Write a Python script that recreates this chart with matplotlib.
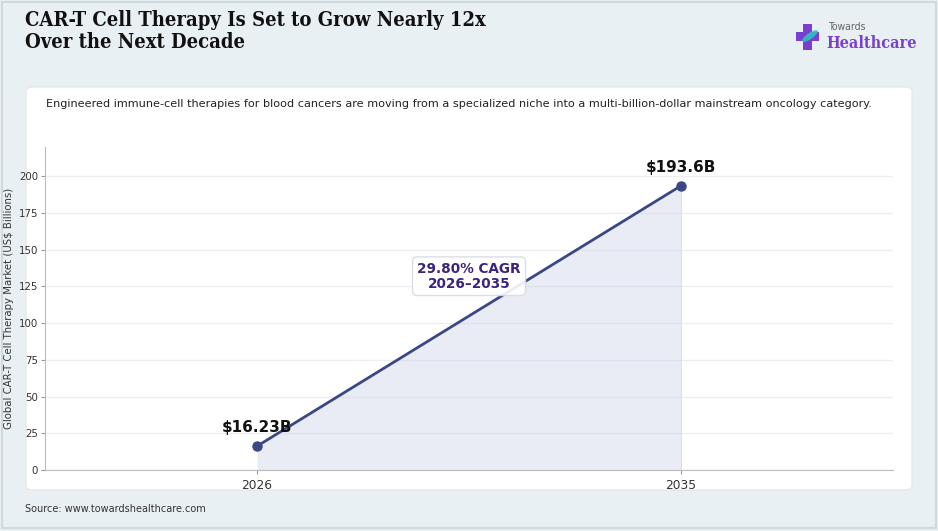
import matplotlib.pyplot as plt
from matplotlib.patches import FancyBboxPatch, Rectangle, Ellipse

# data
years = ['2026', '2035']
market = [16.23, 193.6]
value_labels = ['$16.23B', '$193.6B']
cagr_text = '29.80% CAGR\n2026–2035'

title = 'CAR-T Cell Therapy Is Set to Grow Nearly 12x\nOver the Next Decade'
subtitle = ('Engineered immune-cell therapies for blood cancers are moving from a specialized '
            'niche into a multi-billion-dollar mainstream oncology category.')
source = 'Source: www.towardshealthcare.com'

line_col = '#3b4785'
bg_col = '#e9f0f3'

####################################################
fig = plt.figure(figsize=(9.38, 5.31), dpi=100)
fig.patch.set_facecolor(bg_col)

W, H = 938, 531


def fx(px):
    return px / W


def fy(py):
    return 1 - py / H


# outer frame
fig.patches.append(Rectangle((fx(2), fy(528)), fx(934), 526 / H, transform=fig.transFigure,
                             facecolor='none', edgecolor='#cfdadf', lw=1.5, zorder=-2))
# white card
fig.patches.append(FancyBboxPatch((fx(26), fy(490)), fx(886), 403 / H,
                                  boxstyle='round,pad=0,rounding_size=0.008',
                                  transform=fig.transFigure, facecolor='white',
                                  edgecolor='#e3e9ec', lw=1, zorder=-1))

fig.text(fx(25), fy(31), title, fontsize=14.5, fontweight='bold', family='DejaVu Serif',
         fontstretch='condensed', va='center', ha='left', color='#111111', linespacing=1.1)
fig.text(fx(46), fy(104), subtitle, fontsize=8.1, va='center', ha='left', color='#222222')
fig.text(fx(25), fy(509), source, fontsize=7.0, va='center', ha='left', color='#333333')

# logo
fig.patches.append(Rectangle((fx(803), fy(50)), fx(9), 26 / H, transform=fig.transFigure,
                             facecolor='#7b3fd0', edgecolor='none'))
fig.patches.append(Rectangle((fx(796), fy(41)), fx(23), 9 / H, transform=fig.transFigure,
                             facecolor='#7b3fd0', edgecolor='none'))
fig.patches.append(Ellipse((fx(810), fy(36)), fx(8), 14 / H, angle=-35,
                           transform=fig.transFigure, facecolor='#2cc3c0', edgecolor='none',
                           alpha=0.9))
fig.text(fx(828), fy(27), 'Towards', fontsize=7.5, color='#666666', va='center', ha='left',
         fontstretch='condensed')
fig.text(fx(826), fy(44), 'Healthcare', fontsize=11.6, color='#7b3fd0', va='center',
         ha='left', family='DejaVu Serif', fontstretch='condensed', fontweight='bold')

####################################################
ax = fig.add_axes([fx(45), fy(470), fx(893 - 45), (470 - 147) / H])
ax.set_facecolor('none')

xs = list(range(len(years)))
ax.fill_between(xs, market, 0, color='#c5c9e3', alpha=0.35, lw=0, zorder=1)
ax.plot(xs, market, color=line_col, lw=2, marker='o', ms=6.5, zorder=3)
ax.axvline(xs[-1], ymax=market[-1] / 220, color='#dde0ea', lw=0.8, zorder=1)

for x, v, lab in zip(xs, market, value_labels):
    ax.annotate(lab, (x, v), xytext=(0, 8), textcoords='offset points', ha='center',
                va='bottom', fontsize=11, fontweight='bold', color='#111111', zorder=4)

ax.text(0.5, 132, cagr_text, ha='center', va='center', fontsize=9.8, fontweight='bold',
        color='#3a2480', linespacing=1.1, zorder=5,
        bbox=dict(boxstyle='round,pad=0.35', facecolor='white', edgecolor='#d6dbe0', alpha=0.9))

ax.set_xlim(-0.5, 1.5)
ax.set_ylim(0, 220)
ax.set_xticks(xs)
ax.set_xticklabels(years)
ax.set_yticks(range(0, 201, 25))
ax.tick_params(axis='x', labelsize=8.8, colors='#333333', length=3, color='#999999')
ax.tick_params(axis='y', labelsize=7.4, colors='#333333', length=3, pad=2, color='#999999')
ax.grid(axis='y', color='#eceff2', lw=0.9)
ax.set_axisbelow(True)
for s in ['top', 'right']:
    ax.spines[s].set_visible(False)
for s in ['left', 'bottom']:
    ax.spines[s].set_color('#bbbbbb')
ax.set_ylabel('Global CAR-T Cell Therapy Market (US$ Billions)', fontsize=7.3, color='#333333')
ax.yaxis.set_label_coords(-0.037, 0.5)

fig.savefig('out.png', dpi=100, facecolor=fig.get_facecolor())
